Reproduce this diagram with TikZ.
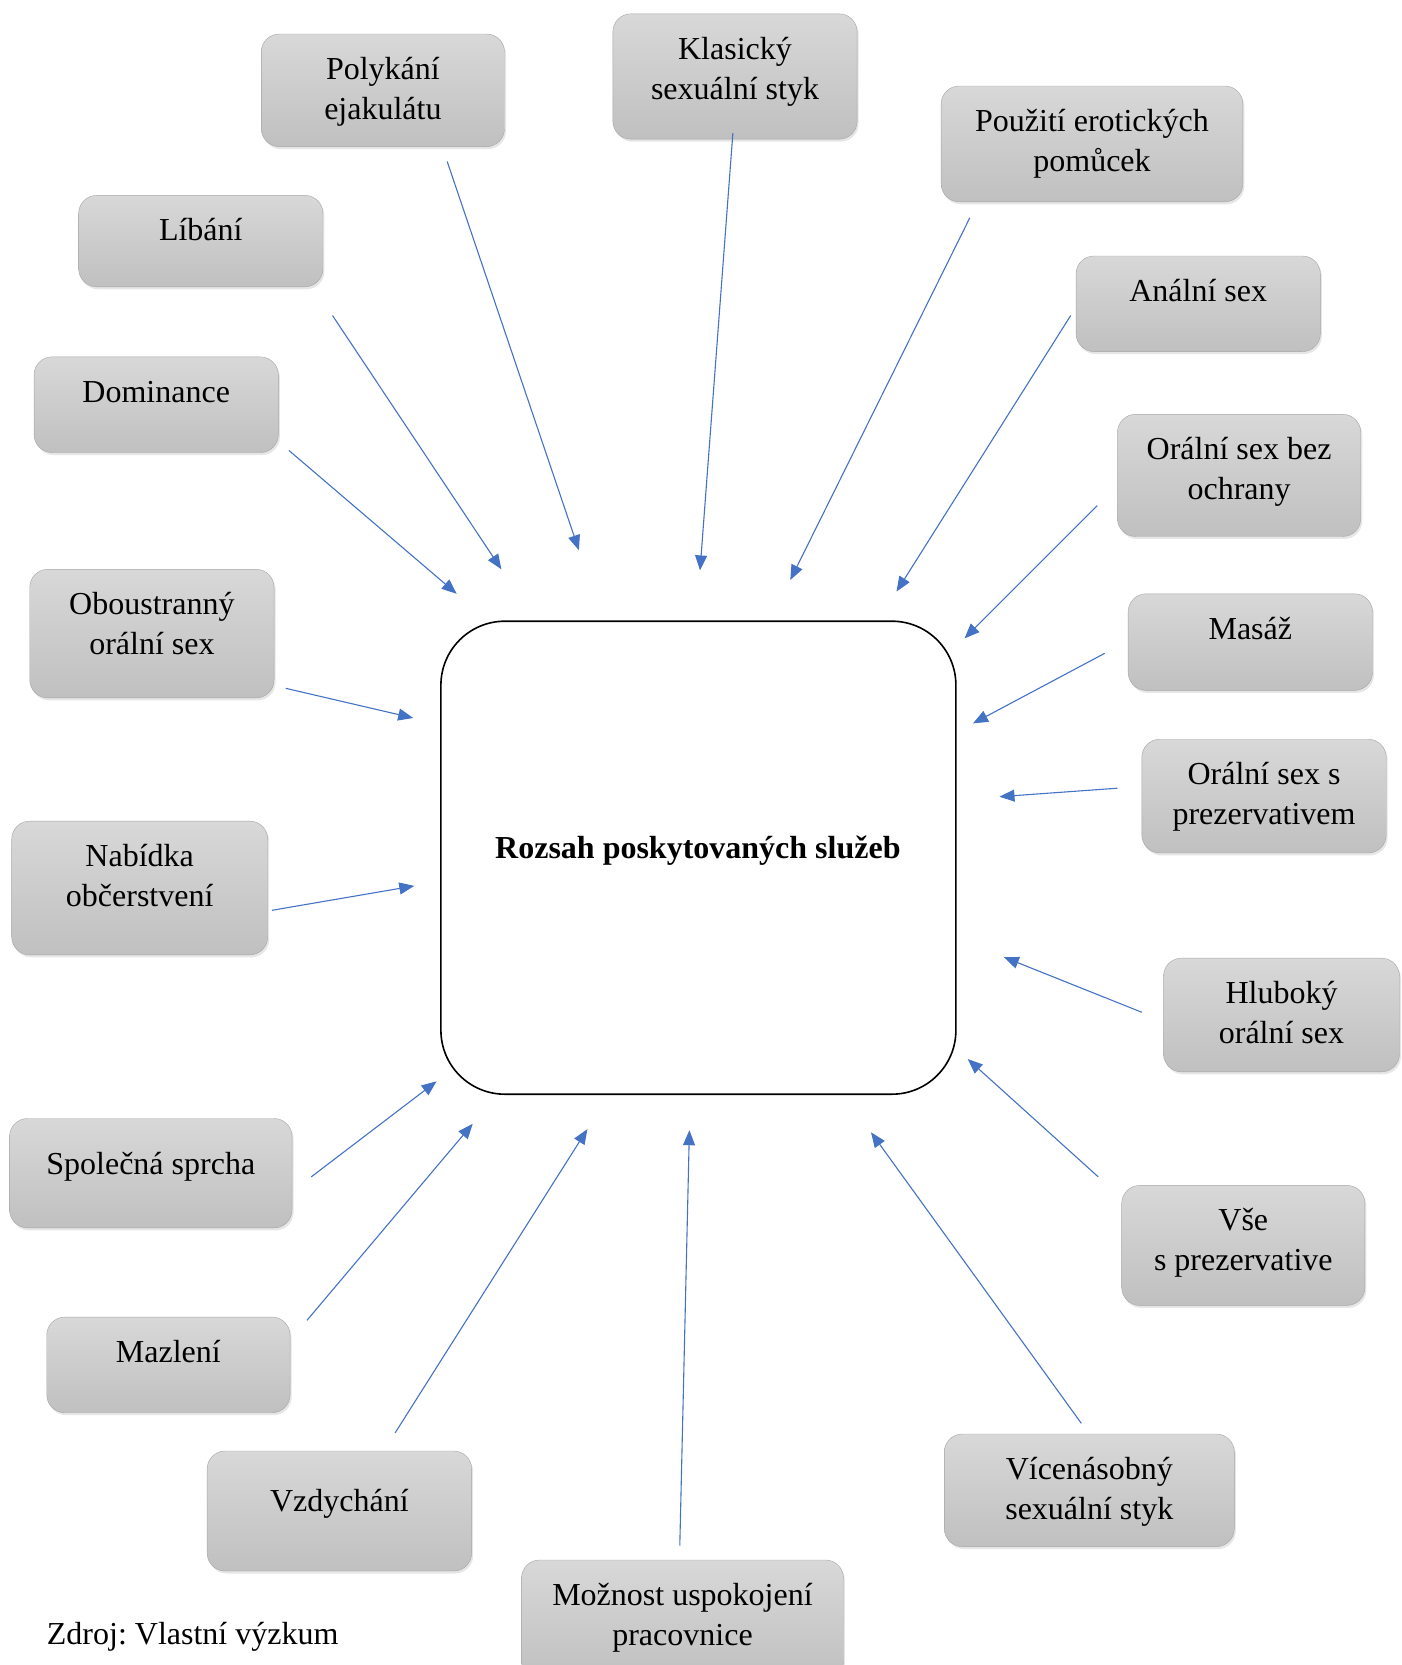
\documentclass[tikz,border=0pt]{standalone}
\usepackage{fontspec}
\setmainfont{Liberation Serif}
\usetikzlibrary{arrows.meta, shadows}
\frenchspacing

\definecolor{boxtop}{RGB}{216,216,216}
\definecolor{boxbot}{RGB}{192,192,192}
\definecolor{boxline}{RGB}{165,165,165}
\definecolor{arrblue}{RGB}{68,114,196}

\tikzset{
  svc/.style = {draw = boxline, rounded corners = 18pt, top color = boxtop, bottom color = boxbot,
                drop shadow = {opacity = .2, shadow xshift = 1.5pt, shadow yshift = -2.5pt}},
  svctext/.style = {anchor = north, inner sep = 0pt, align = center},
  arr/.style = {arrblue, line width = 1.1pt, -{Triangle[length = 15pt, width = 12pt]}}
}

\begin{document}
\begin{tikzpicture}[x = 1pt, y = -1pt, font = \fontsize{32}{40}\selectfont]

    \useasboundingbox (0,0) rectangle (1401,1665);

    % central box
    \node [draw, line width = 1.6pt, rounded corners = 64pt, minimum width = 515pt, minimum height = 473pt] (rozsah) at (698.4,857.7) {};
    \node [inner sep = 0pt] (rozsah-t) at (697.9,850.6) {\textbf{Rozsah poskytovaných služeb}};

    % services
    \foreach \n/\x/\y/\w/\h/\d/\t in {
        polyk/382.9/90.3/243.2/112.6/17.5/{Polykání\\ejakulátu},
        klas/735.0/76.5/244.3/125.3/17.5/{Klasický\\sexuální styk},
        pouz/1092.0/143.9/301.7/115.8/17.5/{Použití erotických\\pomůcek},
        libani/200.8/241.1/244.3/91.4/17.5/{Líbání},
        anal/1198.2/303.8/244.3/95.6/17.5/{Anální sex},
        domin/156.2/404.7/244.3/95.6/17.5/{Dominance},
        oralbez/1239.1/475.4/243.3/122.1/17.5/{Orální sex bez\\ochrany},
        obou/151.9/633.6/244.3/128.6/17.5/{Oboustranný\\orální sex},
        masaz/1250.3/642.1/244.3/96.6/17.5/{Masáž},
        oralpre/1264.0/796.1/244.4/113.7/17.5/{Orální sex s\\prezervativem},
        nabidka/139.7/888.0/256.0/133.8/17.5/{Nabídka\\občerstvení},
        hlub/1281.5/1015.0/236.0/113.7/17.5/{Hluboký\\orální sex},
        spolec/150.8/1173.2/282.5/109.4/27.5/{Společná sprcha},
        vse/1243.3/1245.4/243.2/120.0/17.5/{Vše\\s prezervative},
        mazleni/168.4/1364.9/243.3/95.6/17.5/{Mazlení},
        vzdych/339.4/1511.0/264.5/120.0/32.5/{Vzdychání},
        vicen/1089.3/1490.3/290.0/112.6/17.5/{Vícenásobný\\sexuální styk},
        moznost/682.5/1620.0/321.9/120.0/17.5/{Možnost uspokojení\\pracovnice}} {
      \node [svc, minimum width = \w pt, minimum height = \h pt] (\n) at (\x,\y) {};
      \node [svctext, yshift = -\d pt] (\n-t) at (\n.north) {\strut\t};
    }

    % arrows towards the centre
    \foreach \n/\ax/\ay/\bx/\by in {
        polyk/447.2/161.5/578.9/550.2,
        klas/732.9/132.8/700.0/570.4,
        pouz/969.8/217.8/790.3/580.0,
        libani/332.5/315.5/501.4/569.3,
        anal/1070.7/315.5/896.5/591.6,
        domin/288.9/450.4/456.7/593.8,
        oralbez/1097.3/505.6/964.5/638.4,
        obou/285.7/688.3/413.2/718.0,
        masaz/1104.7/653.3/973.0/723.4,
        oralpre/1117.4/788.2/999.5/796.7,
        nabidka/271.9/910.3/414.3/885.9,
        hlub/1141.9/1012.3/1003.8/957.1,
        spolec/311.2/1176.9/436.6/1081.3,
        vse/1098.3/1176.9/967.7/1059.0,
        mazleni/307.0/1320.3/472.7/1123.8,
        vzdych/395.1/1432.9/587.4/1129.1,
        vicen/1081.3/1423.3/871.0/1132.3,
        moznost/679.8/1545.5/689.4/1130.2} {
      \coordinate (\n-a) at (\ax,\ay);
      \coordinate (\n-b) at (\bx,\by);
      \draw [arr] (\n-a) -- (\n-b);
    }

    \node [anchor = west, inner sep = 0pt] (zdroj) at (46.7,1636.7) {Zdroj: Vlastní výzkum};

\end{tikzpicture}
\end{document}
